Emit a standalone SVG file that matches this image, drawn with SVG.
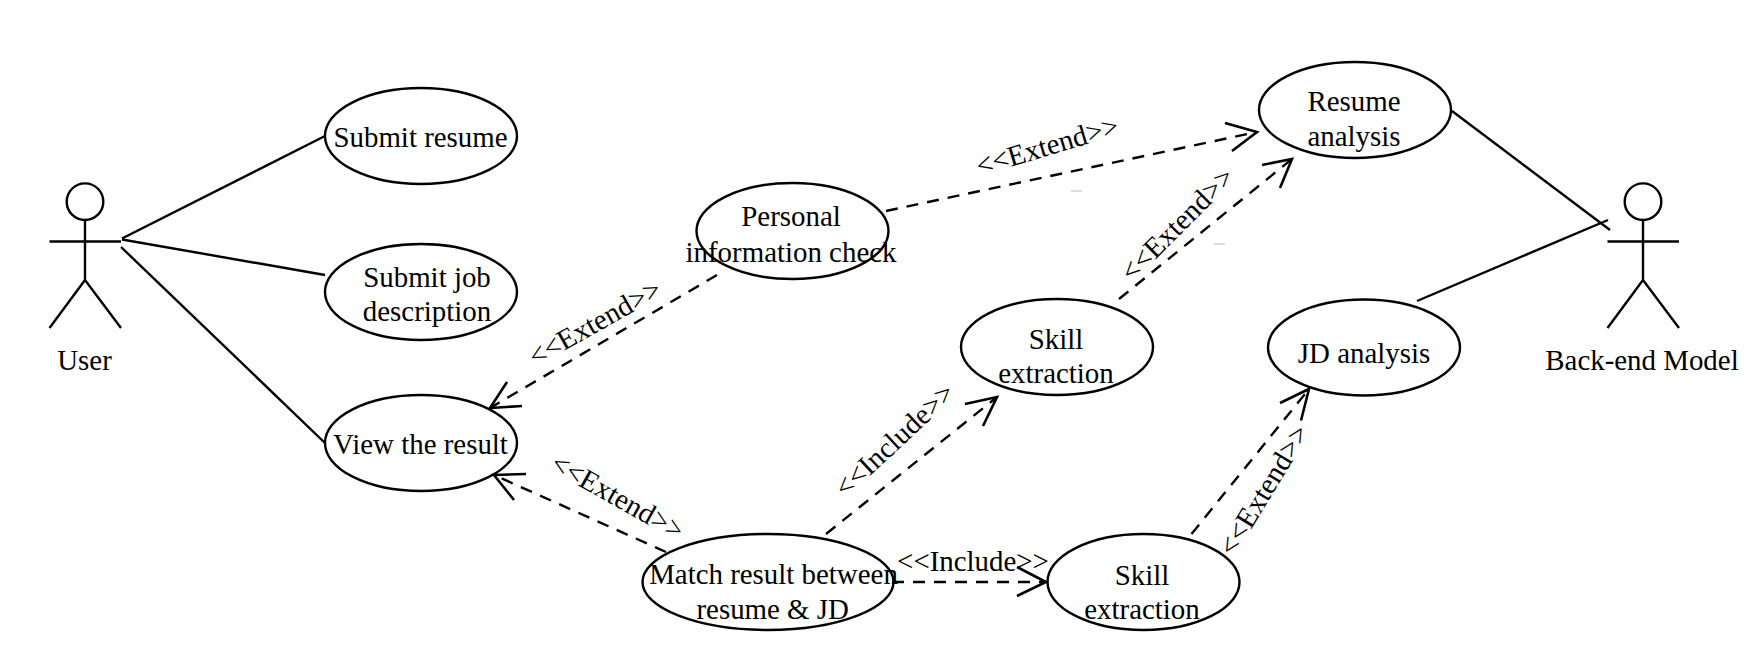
<svg xmlns="http://www.w3.org/2000/svg" width="1756" height="656" viewBox="0 0 1756 656">
<style>
.n{fill:none;stroke:#000;stroke-width:2.4}
.l{fill:none;stroke:#000;stroke-width:2.4}
.s{fill:none;stroke:#000;stroke-width:2.4}
.d{fill:none;stroke:#000;stroke-width:2.4;stroke-dasharray:12 9}
.a{fill:none;stroke:#000;stroke-width:2.6}
text{font-family:"Liberation Serif","Times New Roman",serif;font-size:28.9px;fill:#000;text-anchor:middle}
</style>
<rect width="1756" height="656" fill="#fff"/>
<g id="connectors">
<path class="s" d="M122 238.5L325 136"/>
<path class="s" d="M122 239.5L325 275"/>
<path class="s" d="M121 247L325 443"/>
<path class="s" d="M1452 111L1610 230"/>
<path class="s" d="M1417 301L1608 220"/>
<path class="d" d="M717 275L490 408"/><path class="a" d="M507 382L490 408L522 406"/>
<path class="d" d="M666 552L494 475"/><path class="a" d="M526 474L494 475L514 500"/>
<path class="d" d="M886 211L1257 132"/><path class="a" d="M1225 123L1257 132L1232 151"/>
<path class="d" d="M1119 299L1292 159"/><path class="a" d="M1262 165L1292 159L1280 188"/>
<path class="d" d="M826 534L997 397"/><path class="a" d="M965 404L997 397L983 426"/>
<path class="d" d="M1191.5 534L1309 389"/><path class="a" d="M1280 403L1309 389L1301 420.5"/>
<path class="d" d="M892 582L1046 582"/><path class="a" d="M1017 567L1046 582L1017 596"/>
<path d="M1071 191H1082M1214 244H1225" stroke="#bbb" stroke-width="1.2" fill="none"/>
<text transform="translate(599.5 331) rotate(-29.4)">&lt;&lt;Extend&gt;&gt;</text>
<text transform="translate(613 505) rotate(29.4)">&lt;&lt;Extend&gt;&gt;</text>
<text transform="translate(1050 155) rotate(-16.6)">&lt;&lt;Extend&gt;&gt;</text>
<text transform="translate(1184 231) rotate(-45)">&lt;&lt;Extend&gt;&gt;</text>
<text transform="translate(901 447) rotate(-43)">&lt;&lt;Include&gt;&gt;</text>
<text transform="translate(1272 495) rotate(-58.6)">&lt;&lt;Extend&gt;&gt;</text>
<text x="973" y="571">&lt;&lt;Include&gt;&gt;</text>
</g>
<g id="user"><circle class="n" cx="85" cy="201.7" r="18.3"/><path class="l" d="M85 220V280M49.5 241.5H121M49.5 328L85 280L121 328"/><text x="84.5" y="370">User</text></g>
<g id="backend"><circle class="n" cx="1643" cy="201.7" r="18.3"/><path class="l" d="M1643 220V280M1607.5 241.5H1679M1607.5 328L1643 280L1679 328"/><text x="1642" y="370">Back-end Model</text></g>
<g id="submit-resume"><ellipse class="n" cx="421" cy="136" rx="96" ry="48"/><text x="420.5" y="147">Submit resume</text></g>
<g id="submit-jd"><ellipse class="n" cx="421" cy="292" rx="96" ry="48"/><text x="427" y="286.6">Submit job</text><text x="427" y="321">description</text></g>
<g id="view-result"><ellipse class="n" cx="421" cy="443" rx="96" ry="48"/><text x="420.5" y="454">View the result</text></g>
<g id="personal-check"><ellipse class="n" cx="792.5" cy="231" rx="96" ry="48"/><text x="791" y="226">Personal</text><text x="791" y="261.5">information check</text></g>
<g id="match-result"><ellipse class="n" cx="768" cy="582" rx="125.5" ry="48"/><text x="773.5" y="583.7">Match result between</text><text x="772.7" y="619">resume &amp; JD</text></g>
<g id="resume-analysis"><ellipse class="n" cx="1355" cy="110" rx="96" ry="48"/><text x="1354" y="111">Resume</text><text x="1354" y="145.6">analysis</text></g>
<g id="skill-1"><ellipse class="n" cx="1057" cy="347" rx="96" ry="48"/><text x="1056" y="349">Skill</text><text x="1056" y="383">extraction</text></g>
<g id="jd-analysis"><ellipse class="n" cx="1364" cy="347.5" rx="96" ry="48"/><text x="1364" y="363">JD analysis</text></g>
<g id="skill-2"><ellipse class="n" cx="1143.5" cy="582" rx="96" ry="48"/><text x="1142" y="584.5">Skill</text><text x="1142" y="619">extraction</text></g>
</svg>
